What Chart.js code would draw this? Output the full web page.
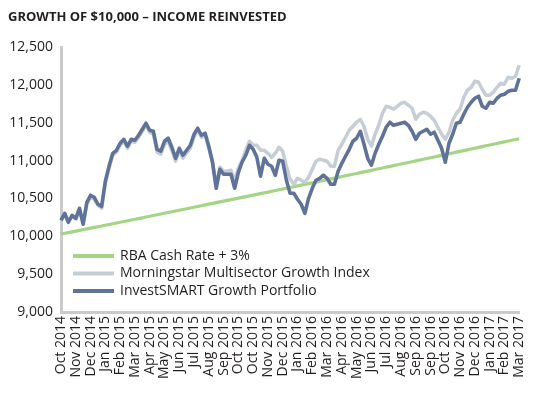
<!DOCTYPE html>
<html>
<head>
<meta charset="utf-8">
<script src="https://cdn.jsdelivr.net/npm/chart.js@4"></script>
<style>
  html, body { margin: 0; padding: 0; background: #fff; }
  #wrap { width: 540px; height: 395px; position: relative; }
</style>
</head>
<body>
<div id="wrap"><canvas id="growthChart"></canvas></div>
<script>
// Подписи оси X (по одной на каждые 4 точки)
const tickLabels = ['Oct 2014','Nov 2014','Dec 2014','Jan 2015','Feb 2015','Mar 2015','Apr 2015','May 2015',
  'Jun 2015','Jul 2015','Aug 2015','Sep 2015','Oct 2015','Oct 2015','Nov 2015','Dec 2015','Jan 2016','Feb 2016',
  'Mar 2016','Apr 2016','May 2016','Jun 2016','Jul 2016','Aug 2016','Sep 2016','Sep 2016','Oct 2016','Nov 2016',
  'Dec 2016','Jan 2017','Feb 2017','Mar 2017'];
const pointsPerTick = 4;

const seriesNames = ['RBA Cash Rate + 3%', 'Morningstar Multisector Growth Index', 'InvestSMART Growth Portfolio'];

const cashRate = [
  10030, 10040, 10049, 10059, 10068, 10078, 10088, 10097, 10107, 10117,
  10126, 10136, 10146, 10156, 10165, 10175, 10185, 10195, 10205, 10215,
  10225, 10234, 10244, 10254, 10264, 10274, 10284, 10294, 10304, 10314,
  10324, 10334, 10344, 10354, 10364, 10374, 10384, 10394, 10404, 10414,
  10424, 10434, 10444, 10454, 10464, 10474, 10484, 10494, 10504, 10514,
  10524, 10534, 10544, 10554, 10564, 10574, 10584, 10594, 10604, 10614,
  10624, 10634, 10645, 10655, 10665, 10675, 10686, 10696, 10706, 10716,
  10727, 10737, 10747, 10758, 10768, 10778, 10789, 10799, 10809, 10820,
  10830, 10840, 10851, 10861, 10871, 10882, 10892, 10902, 10913, 10923,
  10933, 10944, 10954, 10965, 10975, 10985, 10996, 11006, 11017, 11027,
  11037, 11048, 11058, 11069, 11079, 11090, 11100, 11111, 11121, 11132,
  11142, 11153, 11163, 11174, 11184, 11195, 11205, 11216, 11226, 11237,
  11247, 11258, 11268, 11278, 11289
];

const morningstar = [
  10198, 10291, 10198, 10264, 10225, 10343, 10172, 10423, 10515, 10489,
  10410, 10370, 10700, 10898, 11070, 11110, 11202, 11255, 11162, 11255,
  11242, 11308, 11387, 11466, 11374, 11347, 11110, 11083, 11215, 11255,
  11136, 10991, 11123, 11030, 11096, 11162, 11308, 11400, 11308, 11334,
  11162, 10978, 10674, 10911, 10859, 10859, 10872, 10740, 10898, 11004,
  11136, 11255, 11202, 11202, 11136, 11136, 11096, 11044, 11096, 11176,
  11123, 10925, 10753, 10687, 10766, 10740, 10713, 10779, 10885, 10991,
  11017, 11004, 10991, 10925, 10925, 11136, 11215, 11308, 11400, 11453,
  11506, 11546, 11453, 11281, 11189, 11347, 11466, 11625, 11717, 11704,
  11678, 11717, 11757, 11770, 11731, 11691, 11546, 11612, 11638, 11625,
  11585, 11532, 11440, 11347, 11281, 11374, 11532, 11625, 11678, 11836,
  11929, 11968, 12048, 12034, 11942, 11863, 11863, 11902, 11968, 12021,
  12008, 12100, 12087, 12114, 12259
];

const portfolio = [
  10211, 10304, 10185, 10277, 10238, 10370, 10159, 10449, 10542, 10515,
  10423, 10396, 10727, 10925, 11096, 11136, 11229, 11281, 11189, 11281,
  11268, 11334, 11413, 11493, 11400, 11387, 11149, 11123, 11255, 11295,
  11176, 11030, 11162, 11070, 11136, 11202, 11347, 11427, 11334, 11361,
  11189, 10978, 10634, 10885, 10819, 10819, 10819, 10634, 10845, 10978,
  11070, 11202, 11149, 11044, 10793, 11030, 10951, 10925, 10806, 11004,
  10991, 10740, 10568, 10568, 10489, 10423, 10304, 10502, 10634, 10740,
  10766, 10806, 10766, 10687, 10687, 10859, 10964, 11057, 11149, 11255,
  11295, 11387, 11215, 11030, 10938, 11096, 11215, 11321, 11440, 11506,
  11466, 11480, 11493, 11506, 11466, 11387, 11281, 11361, 11387, 11413,
  11347, 11374, 11268, 11162, 10978, 11229, 11347, 11493, 11506, 11612,
  11704, 11770, 11823, 11850, 11717, 11691, 11770, 11757, 11823, 11863,
  11876, 11915, 11929, 11929, 12087
];

const yMin = 9000;
const yMax = 12500;
const yStep = 500;

const colors = ['#a4d486', '#c5cdd7', '#5f7398'];
const FONT = '"Open Sans", "Noto Sans", sans-serif';

// Подписи категорий: название месяца на каждой 4-й точке
const labels = portfolio.map((v, i) => (i % pointsPerTick === 0 ? (tickLabels[i / pointsPerTick] || '') : ''));

// Заголовок и легенда внутри области графика
const titleAndLegend = {
  id: 'titleAndLegend',
  afterDraw(chart) {
    const ctx = chart.ctx;
    ctx.save();
    ctx.fillStyle = '#231f20';
    ctx.font = 'bold 13px ' + FONT;
    ctx.textBaseline = 'middle';
    ctx.textAlign = 'left';
    ctx.fillText('GROWTH OF $10,000 \u2013 INCOME REINVESTED', 8, 17);

    const area = chart.chartArea;
    let y = area.bottom - 56;
    chart.data.datasets.forEach(ds => {
      ctx.strokeStyle = ds.borderColor;
      ctx.lineWidth = 4;
      ctx.beginPath();
      ctx.moveTo(area.left + 12, y);
      ctx.lineTo(area.left + 53, y);
      ctx.stroke();
      ctx.fillStyle = '#231f20';
      ctx.font = '14px ' + FONT;
      ctx.fillText(ds.label, area.left + 59, y);
      y += 17.5;
    });
    ctx.restore();
  }
};

const config = {
  type: 'line',
  data: {
    labels: labels,
    datasets: [
      { label: seriesNames[0], data: cashRate, borderColor: colors[0], borderWidth: 3.2, order: 2 },
      { label: seriesNames[1], data: morningstar, borderColor: colors[1], borderWidth: 3.5, order: 1 },
      { label: seriesNames[2], data: portfolio, borderColor: colors[2], borderWidth: 3.6, order: 0 }
    ]
  },
  options: {
    responsive: false,
    animation: false,
    elements: { point: { radius: 0 }, line: { tension: 0, borderJoinStyle: 'round' } },
    layout: { padding: { left: 8, right: 16, top: 47, bottom: 0 } },
    plugins: { legend: { display: false }, tooltip: { enabled: false }, title: { display: false } },
    scales: {
      x: {
        type: 'category',
        offset: false,
        grid: { display: false, drawTicks: false },
        border: { display: true, color: '#c9cacb', width: 3 },
        ticks: {
          autoSkip: false, maxRotation: 90, minRotation: 90, padding: 4,
          color: '#231f20', font: { family: FONT, size: 14 },
          callback: function (val) { return this.getLabelForValue(val); }
        },
        afterFit(scale) { scale.height = 83; }
      },
      y: {
        min: yMin, max: yMax,
        grid: { display: false, drawTicks: false },
        border: { display: true, color: '#c9cacb', width: 3 },
        ticks: {
          stepSize: yStep, padding: 8,
          color: '#231f20', font: { family: FONT, size: 14 },
          callback: v => v.toLocaleString('en-US')
        },
        afterFit(scale) { scale.width = 53; }
      }
    }
  },
  plugins: [titleAndLegend]
};

const canvas = document.getElementById('growthChart');
canvas.width = 540;
canvas.height = 395;
new Chart(canvas, config);
</script>
</body>
</html>
